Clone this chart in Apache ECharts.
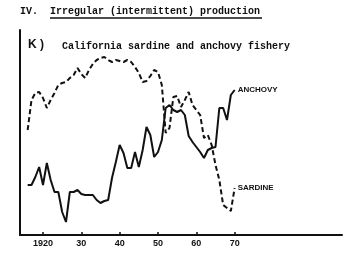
<!DOCTYPE html>
<html><head><meta charset="utf-8">
<script src="https://cdn.jsdelivr.net/npm/echarts@6/dist/echarts.min.js"></script>
<style>html,body{margin:0;padding:0;background:#fff}#c{width:350px;height:260px}</style>
</head><body><div id="c"></div>
<script>
var years = [1916,1917,1918,1919,1920,1921,1922,1923,1924,1925,1926,1927,1928,1929,1930,1931,1932,1933,1934,1935,1936,1937,1938,1939,1940,1941,1942,1943,1944,1945,1946,1947,1948,1949,1950,1951,1952,1953,1954,1955,1956,1957,1958,1959,1960,1961,1962,1963,1964,1965,1966,1967,1968,1969,1970];
// relative catch index
var sardine = [105,135,142,143,137,127,135,142,150,152,153,157,160,167,161,157,165,171,175,177,178,175,173,175,174,173,175,173,168,162,153,154,159,165,163,150,102,107,138,139,128,135,143,130,125,120,97,100,90,70,55,30,27,24,47];
var anchovy = [50,50,58,68,50,72,55,43,43,23,13,43,43,45,41,40,40,40,35,32,34,35,57,73,90,82,67,67,83,68,85,108,100,78,83,95,127,130,125,123,125,120,99,93,88,83,77,85,87,88,127,127,115,140,145];
var tickYears = [1920,1930,1940,1950,1960,1970];
var tickLabels = ['1920','30','40','50','60','70'];

function pairs(v){ return years.map(function(y,i){ return [y, v[i]]; }); }

var chart = echarts.init(document.getElementById('c'));
chart.setOption({
  animation: false,
  grid: {left: 20, right: 8, top: 30, bottom: 25},
  graphic: [
    {type:'text', left: 20, top: 6, style:{text:'IV.  Irregular (intermittent) production', font:'bold 10px "Liberation Mono"', fill:'#111'}},
    {type:'line', shape:{x1:50, y1:18, x2:262, y2:18}, style:{stroke:'#111', lineWidth:1.5}},
    {type:'text', left: 28, top: 39, style:{text:'K )', font:'bold 12px "Liberation Sans"', fill:'#111'}},
    {type:'text', left: 62, top: 41, style:{text:'California sardine and anchovy fishery', font:'bold 10px "Liberation Mono"', fill:'#111'}}
  ],
  xAxis: {
    type: 'value', min: 1914, max: 1998,
    splitLine: {show: false},
    axisLine: {show: true, lineStyle: {color: '#111', width: 2}},
    axisTick: {show: true, inside: true, length: 3, customValues: tickYears, lineStyle:{color:'#111', width:1.5}},
    axisLabel: {customValues: tickYears, margin: 4, color: '#111', fontSize: 9, fontWeight: 'bold', fontFamily: 'Liberation Sans',
      formatter: function(v){ var i = tickYears.indexOf(v); return i >= 0 ? tickLabels[i] : ''; }}
  },
  yAxis: {
    type: 'value', min: 0, max: 205,
    splitLine: {show: false},
    axisLine: {show: true, lineStyle: {color: '#111', width: 2}},
    axisTick: {show: false},
    axisLabel: {show: false}
  },
  series: [
    {name: 'SARDINE', type: 'line', data: pairs(sardine), symbol: 'none',
     lineStyle: {color: '#111', width: 2, type: [5, 3]},
     endLabel: {show: true, formatter: 'SARDINE', fontSize: 8, fontWeight: 'bold', fontFamily: 'Liberation Sans', color: '#111', distance: 3}},
    {name: 'ANCHOVY', type: 'line', data: pairs(anchovy), symbol: 'none',
     lineStyle: {color: '#111', width: 2},
     endLabel: {show: true, formatter: 'ANCHOVY', fontSize: 8, fontWeight: 'bold', fontFamily: 'Liberation Sans', color: '#111', distance: 3}}
  ]
});
</script>
</body></html>
